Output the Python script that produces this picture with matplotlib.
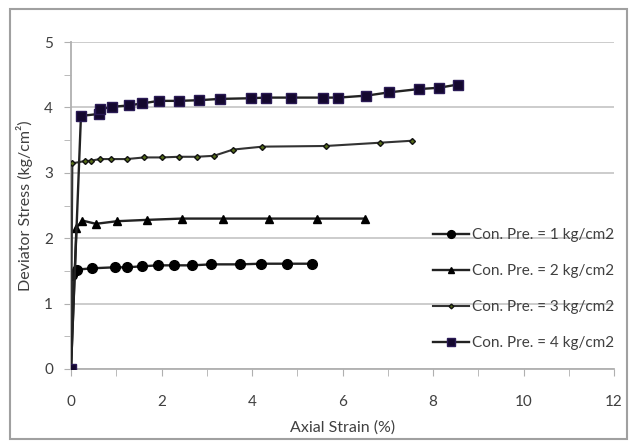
import numpy as np
import matplotlib.pyplot as plt
from matplotlib.patches import Rectangle

# axial strain (%) and deviator stress (kg/cm2) for each confining pressure
strain_1 = [0, 0.03, 0.14, 0.47, 0.97, 1.23, 1.57, 1.92, 2.28, 2.67, 3.1, 3.73, 4.2, 4.78, 5.33]
stress_1 = [0, 1.43, 1.52, 1.54, 1.555, 1.555, 1.57, 1.585, 1.585, 1.585, 1.6, 1.6, 1.61, 1.61, 1.61]

strain_2 = [0, 0.12, 0.25, 0.55, 1.02, 1.67, 2.45, 3.36, 4.38, 5.43, 6.49]
stress_2 = [0, 2.16, 2.27, 2.22, 2.26, 2.28, 2.30, 2.30, 2.30, 2.30, 2.30]

strain_3 = [0, 0.03, 0.31, 0.44, 0.64, 0.88, 1.23, 1.62, 2.0, 2.39, 2.78, 3.16, 3.58, 4.23, 5.63, 6.83, 7.53]
stress_3 = [0, 3.145, 3.18, 3.185, 3.21, 3.21, 3.21, 3.235, 3.235, 3.245, 3.245, 3.26, 3.355, 3.40, 3.41, 3.46, 3.49]

strain_4 = [0, 0.22, 0.62, 0.64, 0.91, 1.28, 1.56, 1.94, 2.39, 2.83, 3.29, 3.97, 4.30, 4.86, 5.56, 5.91, 6.53, 7.03, 7.68, 8.13, 8.55]
stress_4 = [0, 3.87, 3.90, 3.97, 4.01, 4.03, 4.06, 4.10, 4.10, 4.11, 4.13, 4.14, 4.15, 4.15, 4.15, 4.15, 4.18, 4.23, 4.28, 4.30, 4.35]

labels = ['Con. Pre. = 1 kg/cm2', 'Con. Pre. = 2 kg/cm2',
          'Con. Pre. = 3 kg/cm2', 'Con. Pre. = 4 kg/cm2']

plt.rcParams['font.family'] = ['Lato', 'DejaVu Sans']

fig = plt.figure(figsize=(6.3, 4.41), dpi=100)
ax = fig.add_axes([71 / 630, 1 - 369 / 441, 543 / 630, 327 / 441])

line_col = '#222222'
ax.plot(strain_1, stress_1, color=line_col, lw=1.7, marker='o', ms=7,
        mfc='black', mec='black', label=labels[0], zorder=3)
ax.plot(strain_2, stress_2, color=line_col, lw=1.7, marker='^', ms=5.5,
        mfc='black', mec='black', label=labels[1], zorder=3)
ax.plot(strain_3, stress_3, color='#333333', lw=1.5, marker='D', ms=3,
        mfc='#556b1a', mec='#111111', label=labels[2], zorder=3)
ax.plot(strain_4, stress_4, color=line_col, lw=1.7, marker='s', ms=6.5,
        mfc='#14082e', mec='#2a1a55', label=labels[3], zorder=3)

ax.set_xlim(0, 12)
ax.set_ylim(0, 5)
ax.set_xticks(np.arange(0, 13, 2))
ax.set_xticks(np.arange(0, 13, 1), minor=True)
ax.set_yticks(np.arange(0, 6, 1))
ax.set_yticks(np.arange(0, 5.01, 0.5), minor=True)
ax.grid(axis='y', which='major', color='#c8c8c8', lw=1.3)
ax.set_axisbelow(True)

for s in ['top', 'right']:
    ax.spines[s].set_visible(False)
for s in ['left', 'bottom']:
    ax.spines[s].set_color('#b0b0b0')
    ax.spines[s].set_linewidth(1.3)

ax.tick_params(axis='both', which='both', colors='#b0b0b0', labelcolor='#404040',
               labelsize=11, direction='out')
ax.tick_params(axis='x', which='both', length=5, pad=14)
ax.tick_params(axis='y', which='both', length=5, pad=8)

ax.set_xlabel('Axial Strain (%)', fontsize=11.5, color='#404040', labelpad=8)
ax.set_ylabel('Deviator Stress (kg/cm²)', fontsize=11.5, color='#404040', labelpad=8)

leg = ax.legend(loc='upper left', bbox_to_anchor=(0.655, 0.45), frameon=False,
                fontsize=11, labelcolor='#404040', handlelength=2.4,
                handletextpad=0.2, labelspacing=1.45, borderaxespad=0)
for h in leg.legend_handles:
    h.set_markersize(h.get_markersize() * 0.8)

fig.patches.append(Rectangle((10 / 630, 2 / 441), 617 / 630, 430 / 441,
                             transform=fig.transFigure, fill=False,
                             ec='#a0a0a0', lw=1.5))

fig.savefig('out.png', dpi=100)
